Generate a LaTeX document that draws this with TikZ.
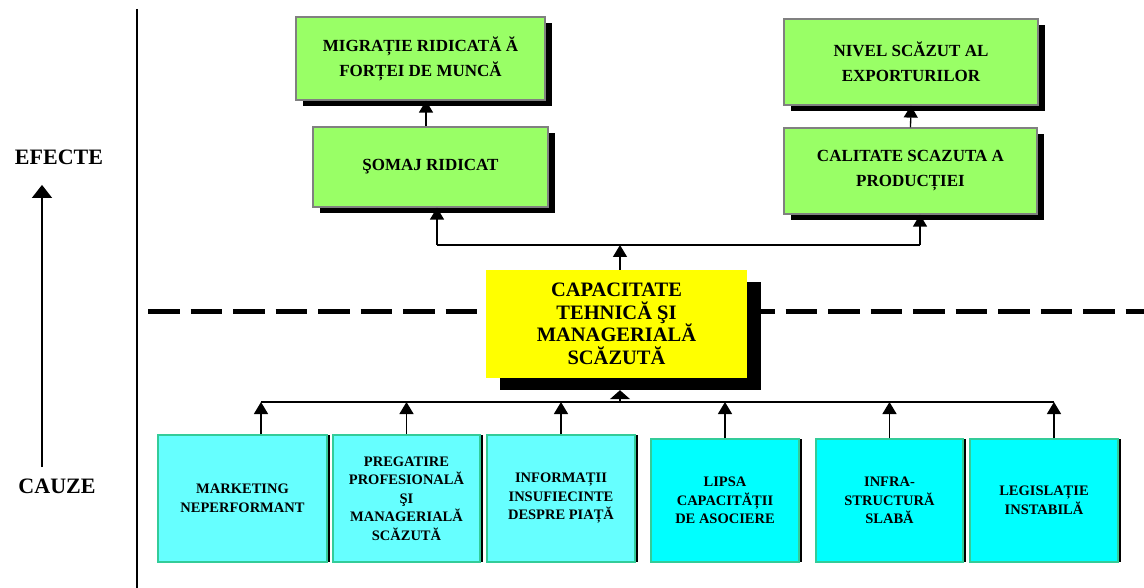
\documentclass[tikz,border=0pt]{standalone}
\usepackage{fontspec}
\setmainfont{Liberation Serif}
\usetikzlibrary{arrows.meta,shadows}

\definecolor{effgreen}{RGB}{153,255,102}
\definecolor{effedge}{RGB}{128,128,128}
\definecolor{coreyellow}{RGB}{255,255,0}
\definecolor{causelight}{RGB}{102,255,255}
\definecolor{causecyan}{RGB}{0,255,255}
\definecolor{causeedge}{RGB}{51,204,153}

\begin{document}
\begin{tikzpicture}
[
    x=1pt, y=-1pt,
    effect/.style={draw=effedge, line width=1.2pt, fill=effgreen, align=center,
        font=\bfseries\fontsize{17}{25}\selectfont,
        drop shadow={shadow xshift=7pt, shadow yshift=-6pt, fill=black, opacity=1}},
    core/.style={fill=coreyellow, align=center,
        font=\bfseries\fontsize{20.5}{22.5}\selectfont,
        drop shadow={shadow xshift=14pt, shadow yshift=-12pt, fill=black, opacity=1}},
    cause/.style={draw=causeedge, line width=1.2pt, minimum width=148pt, align=center,
        font=\bfseries\fontsize{14.5}{18.5}\selectfont,
        drop shadow={shadow xshift=3pt, shadow yshift=0pt, fill=black, opacity=1}},
    side/.style={font=\bfseries\fontsize{22}{24}\selectfont},
    link/.style={line width=1.3pt, -{Triangle[width=14pt,length=12pt]}},
]
\useasboundingbox (0,0) rectangle (1144,588);

% separators
\coordinate (divtop) at (137,9);
\coordinate (divbot) at (137,588);
\draw [line width=2pt] (divtop) -- (divbot);
\coordinate (dashl) at (148,312);
\coordinate (dashr) at (1144,312);
\draw [line width=5pt, dash pattern=on 31.5pt off 11pt] (dashl) -- (dashr);

% effects
\node [effect, minimum width=249pt, minimum height=83pt] (migr) at (420.5,58.5)
{MIGRAȚIE RIDICATĂ Ă\\FORȚEI DE MUNCĂ};
\node [effect, minimum width=235pt, minimum height=80pt] (somaj) at (430.5,167)
{ŞOMAJ RIDICAT};
\node [effect, minimum width=254pt, minimum height=86pt] (nivel) at (911,62)
{NIVEL SCĂZUT AL\\EXPORTURILOR};
\node [effect, minimum width=253pt, minimum height=86pt] (calit) at (910.5,171)
{CALITATE SCAZUTA A\\PRODUCȚIEI};

% core problem
\node [core, minimum width=261pt, minimum height=108pt] (capac) at (616.5,324)
{CAPACITATE\\TEHNICĂ ŞI\\MANAGERIALĂ\\SCĂZUTĂ};

% causes
\node [cause, fill=causelight, minimum width=169pt, minimum height=127pt] (mark) at (242.5,498.5)
{MARKETING\\NEPERFORMANT};
\node [cause, fill=causelight, minimum width=147pt, minimum height=127pt] (preg) at (406.5,498.5)
{PREGATIRE\\PROFESIONALĂ\\ŞI\\MANAGERIALĂ\\SCĂZUTĂ};
\node [cause, fill=causelight, minimum height=127pt] (info) at (561,498.5)
{INFORMAȚII\\INSUFIECINTE\\DESPRE PIAȚĂ};
\node [cause, fill=causecyan, minimum height=123pt] (lipsa) at (725,500.5)
{LIPSA\\CAPACITĂȚII\\DE ASOCIERE};
\node [cause, fill=causecyan, minimum width=147pt, minimum height=123pt] (infra) at (889.5,500.5)
{INFRA-\\STRUCTURĂ\\SLABĂ};
\node [cause, fill=causecyan, minimum height=123pt] (legis) at (1044,500.5)
{LEGISLAȚIE\\INSTABILĂ};

% side labels
\node [side] (efecte) at (59,157) {EFECTE};
\node [side] (cauze) at (57,486) {CAUZE};
\coordinate (axis) at (42,0);
\draw [line width=1.3pt, -{Triangle[width=20pt,length=13pt]}]
    ([yshift=8pt]cauze.north -| axis) -- ([yshift=-17pt]efecte.south -| axis);

% links above the core
\draw [link] ([xshift=-4.5pt]somaj.north) -- ([xshift=-4.5pt]somaj.north |- migr.south);
\draw [link] (calit.north) -- (nivel.south);
\coordinate (jtop) at (620,245);
\coordinate (jl) at (437,245);
\coordinate (jr) at (920,245);
\draw [line width=1.3pt] (jl) -- (jr);
\draw [link] (capac.north -| jtop) -- (jtop);
\draw [link] (jl) -- (jl |- somaj.south);
\draw [link] (jr) -- (jr |- calit.south);

% links below the core
\coordinate (jbot) at (620,402);
\coordinate (bl) at (261,402);
\coordinate (br) at (1054,402);
\draw [line width=1.3pt] (bl) -- (br);
\draw [link, -{Triangle[width=20pt,length=9pt]}] (jbot) -- ([yshift=-12pt]capac.south -| jbot);
\draw [link] (bl |- mark.north) -- (bl);
\draw [link] (preg.north) -- (preg.north |- jbot);
\draw [link] (info.north) -- (info.north |- jbot);
\draw [link] (lipsa.north) -- (lipsa.north |- jbot);
\draw [link] (infra.north) -- (infra.north |- jbot);
\draw [link] (br |- legis.north) -- (br);
\end{tikzpicture}
\end{document}
